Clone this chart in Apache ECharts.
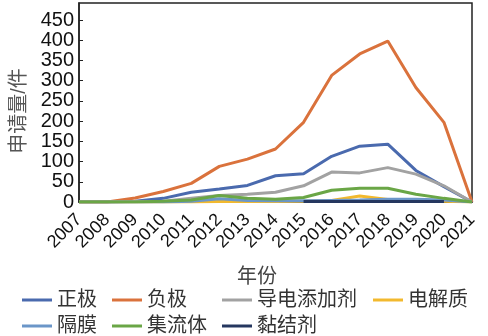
<!DOCTYPE html>
<html>
<head>
<meta charset="utf-8">
<script src="https://cdn.jsdelivr.net/npm/echarts@6/dist/echarts.min.js"></script>
<style>
  html, body { margin: 0; padding: 0; background: #fff; }
  #chart { width: 488px; height: 336px; }
</style>
</head>
<body>
<div id="chart"></div>
<script>
// 年份
const years = ['2007','2008','2009','2010','2011','2012','2013','2014','2015','2016','2017','2018','2019','2020','2021'];

// 各技术分支专利申请量（件）
const zhengji   = [0, 0, 2, 9, 24, 32, 41, 65, 70, 113, 138, 143, 78, 38, 0];
const fuji      = [0, 0, 10, 26, 46, 88, 106, 131, 197, 313, 366, 398, 283, 197, 0];
const daodian   = [0, 0, 1, 2, 9, 16, 19, 24, 40, 74, 72, 85, 69, 40, 0];
const dianjiezhi= [0, 0, 0, 0, 0, 1, 1, 1, 2, 4, 15, 6, 4, 2, 0];
const gemo      = [0, 0, 0, 0, 2, 8, 4, 3, 3, 4, 5, 7, 7, 5, 0];
const jiliuti   = [0, 0, 0, 2, 5, 16, 9, 7, 11, 29, 34, 34, 19, 9, 0];
const nianjieji = [null, null, null, null, null, null, null, null, 1, 1, 1, 1, 1, 1, null];

const seriesNames = ['正极', '负极', '导电添加剂', '电解质', '隔膜', '集流体', '黏结剂'];
const seriesData  = [zhengji, fuji, daodian, dianjiezhi, gemo, jiliuti, nianjieji];
const seriesColors = ['#4A6AAE', '#DA723C', '#A2A2A2', '#F2B92E', '#6B96C8', '#6AA646', '#25375F'];

// 图例排布：两行，按列对齐
const legendLeft = [22, 112, 222, 373, 22, 112, 222];
const legendTop  = [290, 290, 290, 290, 316, 316, 316];

const font = 'Arial, "Liberation Sans", "Noto Sans CJK SC", sans-serif';

const chart = echarts.init(document.getElementById('chart'), null, { renderer: 'canvas' });

chart.setOption({
  animation: false,
  grid: {
    left: 79, right: 16, top: 3, bottom: 134,
    show: true, borderColor: '#222', borderWidth: 1.5, backgroundColor: 'transparent'
  },
  legend: seriesNames.map((name, i) => ({
    left: legendLeft[i],
    top: legendTop[i],
    itemWidth: 30,
    itemHeight: 3,
    icon: 'rect',
    data: [name],
    padding: 0,
    textStyle: { fontSize: 20, color: '#333', fontFamily: font }
  })),
  xAxis: {
    type: 'category',
    data: years,
    boundaryGap: false,
    axisLine: { lineStyle: { color: '#222', width: 1.5 } },
    axisTick: { show: false },
    axisLabel: { rotate: 45, fontSize: 18, color: '#111', fontFamily: font, margin: 15, interval: 0 },
    name: '年份',
    nameLocation: 'middle',
    nameGap: 65,
    nameTextStyle: { fontSize: 20, color: '#444', fontFamily: font, padding: [0, 37, 0, 0] }
  },
  yAxis: {
    type: 'value',
    min: 0,
    max: 492,
    interval: 50,
    splitLine: { show: false },
    axisLine: { show: true, lineStyle: { color: '#222', width: 1.5 } },
    axisTick: { show: true, inside: true, length: 4, lineStyle: { color: '#222' } },
    axisLabel: { fontSize: 20, color: '#111', fontFamily: font, margin: 5, showMaxLabel: false },
    name: '申请量/件',
    nameLocation: 'middle',
    nameRotate: 90,
    nameGap: 44,
    nameTextStyle: { fontSize: 20, color: '#555', fontFamily: font, padding: [0, 17, 0, 0] }
  },
  series: seriesNames.map((name, i) => ({
    name: name,
    type: 'line',
    data: seriesData[i],
    showSymbol: false,
    symbol: 'none',
    connectNulls: false,
    lineStyle: { width: 3, color: seriesColors[i] },
    itemStyle: { color: seriesColors[i] },
    z: 2 + i
  }))
});
</script>
</body>
</html>
